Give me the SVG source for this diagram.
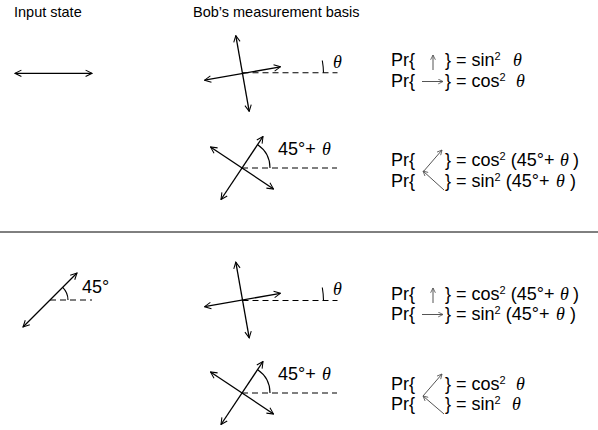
<svg xmlns="http://www.w3.org/2000/svg" width="598" height="430" viewBox="0 0 598 430">
<defs>
<marker id="ah" viewBox="0 0 10 10" refX="9" refY="5" markerWidth="8" markerHeight="8" markerUnits="userSpaceOnUse" orient="auto-start-reverse">
<path d="M1,1 L9,5 L1,9" fill="none" stroke="#000" stroke-width="1.3"/>
</marker>
<marker id="ahg" viewBox="0 0 10 10" refX="9" refY="5" markerWidth="6" markerHeight="6" markerUnits="userSpaceOnUse" orient="auto">
<path d="M1,1 L9,5 L1,9" fill="none" stroke="#555" stroke-width="1.4"/>
</marker>
</defs>
<style>
.t{font-family:"Liberation Sans",Arial,sans-serif;font-size:18px;fill:#000}
.h{font-family:"Liberation Sans",Arial,sans-serif;font-size:14.5px;fill:#000}
.th{font-family:"Liberation Serif","Times New Roman",serif;font-style:italic;font-size:18px;fill:#000}
.sup{font-size:11px}
.ar{stroke:#000;stroke-width:1.3;fill:none;marker-start:url(#ah);marker-end:url(#ah)}
.da{stroke:#000;stroke-width:1.1;fill:none;stroke-dasharray:6 4}
.arc{stroke:#000;stroke-width:1.1;fill:none}
.ga{stroke:#555;stroke-width:1;fill:none;marker-end:url(#ahg)}
</style>

<g id="headers">
<text class="h" x="14" y="17">Input state</text>
<text class="h" x="193" y="17">Bob’s measurement basis</text>
</g>

<line id="separator" x1="0" y1="232" x2="598" y2="232" stroke="#000" stroke-width="1"/>

<g id="connectors">
<line class="ar" x1="15" y1="73.3" x2="92" y2="73.3"/>
<line class="ar" x1="23" y1="327" x2="77" y2="273"/>
</g>

<g id="input-45">
<line class="da" x1="50" y1="300" x2="92" y2="300"/>
<path class="arc" d="M68,300 A18,18 0 0 0 62.7,287.3"/>
<text class="t" x="82" y="293" font-size="17">45°</text>
</g>

<g id="basis-rect-top" transform="translate(242.5,73.5)">
<line class="da" x1="0" y1="-0.8" x2="95" y2="-0.8"/>
<line class="ar" x1="-37.9" y1="6.7" x2="37.9" y2="-6.7"/>
<line class="ar" x1="-6.7" y1="-37.9" x2="6.7" y2="37.9"/>
<path class="arc" d="M81,-0.8 A81,81 0 0 0 79.8,-13"/>
<text class="th" x="90.5" y="-5.5">θ</text>
</g>

<g id="basis-diag-top" transform="translate(242,168)">
<line class="da" x1="0" y1="0" x2="95" y2="0"/>
<line class="ar" x1="-21" y1="31.5" x2="21" y2="-31.5"/>
<line class="ar" x1="-31.5" y1="-21" x2="31.5" y2="21"/>
<path class="arc" d="M28,0 A28,28 0 0 0 15.7,-23.2"/>
<text class="t" x="36" y="-13">45°+</text>
<text class="th" x="80" y="-13">θ</text>
</g>

<g id="basis-rect-bottom" transform="translate(242.5,300)">
<line class="da" x1="0" y1="0.5" x2="95" y2="0.5"/>
<line class="ar" x1="-37.9" y1="6.7" x2="37.9" y2="-6.7"/>
<line class="ar" x1="-6.7" y1="-37.9" x2="6.7" y2="37.9"/>
<path class="arc" d="M81,0.5 A81,81 0 0 0 79.8,-12.5"/>
<text class="th" x="90.5" y="-5">θ</text>
</g>

<g id="basis-diag-bottom" transform="translate(242,393)">
<line class="da" x1="0" y1="0" x2="95" y2="0"/>
<line class="ar" x1="-21" y1="31.5" x2="21" y2="-31.5"/>
<line class="ar" x1="-31.5" y1="-21" x2="31.5" y2="21"/>
<path class="arc" d="M28,0 A28,28 0 0 0 15.7,-23.2"/>
<text class="t" x="36" y="-13">45°+</text>
<text class="th" x="80" y="-13">θ</text>
</g>

<g id="prob-1">
<text class="t" x="391" y="66">Pr{</text>
<line class="ga" x1="433" y1="70" x2="433" y2="55"/>
<text class="t" x="445" y="66">} = sin<tspan class="sup" dy="-6">2</tspan></text>
<text class="th" x="513" y="66">θ</text>
<text class="t" x="391" y="87">Pr{</text>
<line class="ga" x1="422" y1="81.5" x2="443" y2="81.5"/>
<text class="t" x="445" y="87">} = cos<tspan class="sup" dy="-6">2</tspan></text>
<text class="th" x="516" y="87">θ</text>
</g>

<g id="prob-2">
<text class="t" x="391" y="166">Pr{</text>
<line class="ga" x1="423" y1="172" x2="442" y2="150"/>
<text class="t" x="445" y="166">} = cos<tspan class="sup" dy="-6">2</tspan><tspan dy="6"> (45°+</tspan></text>
<text class="th" x="560" y="166">θ</text>
<text class="t" x="573" y="166">)</text>
<text class="t" x="391" y="187">Pr{</text>
<line class="ga" x1="444" y1="190" x2="423" y2="171"/>
<text class="t" x="445" y="187">} = sin<tspan class="sup" dy="-6">2</tspan><tspan dy="6"> (45°+</tspan></text>
<text class="th" x="556" y="187">θ</text>
<text class="t" x="570" y="187">)</text>
</g>

<g id="prob-3">
<text class="t" x="391" y="300">Pr{</text>
<line class="ga" x1="433" y1="303" x2="433" y2="288"/>
<text class="t" x="445" y="300">} = cos<tspan class="sup" dy="-6">2</tspan><tspan dy="6"> (45°+</tspan></text>
<text class="th" x="560" y="300">θ</text>
<text class="t" x="573" y="300">)</text>
<text class="t" x="391" y="320">Pr{</text>
<line class="ga" x1="422" y1="314.5" x2="443" y2="314.5"/>
<text class="t" x="445" y="320">} = sin<tspan class="sup" dy="-6">2</tspan><tspan dy="6"> (45°+</tspan></text>
<text class="th" x="556" y="320">θ</text>
<text class="t" x="570" y="320">)</text>
</g>

<g id="prob-4">
<text class="t" x="391" y="390">Pr{</text>
<line class="ga" x1="423" y1="396" x2="442" y2="374"/>
<text class="t" x="445" y="390">} = cos<tspan class="sup" dy="-6">2</tspan></text>
<text class="th" x="516" y="390">θ</text>
<text class="t" x="391" y="410">Pr{</text>
<line class="ga" x1="444" y1="414" x2="423" y2="396"/>
<text class="t" x="445" y="410">} = sin<tspan class="sup" dy="-6">2</tspan></text>
<text class="th" x="512" y="410">θ</text>
</g>
</svg>
